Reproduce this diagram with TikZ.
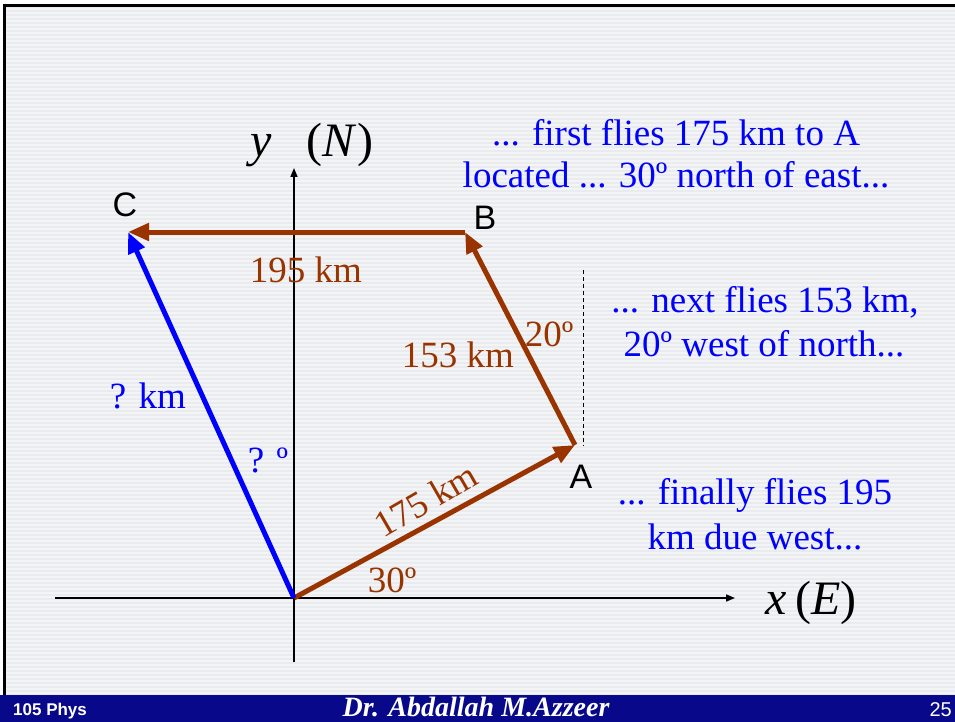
\documentclass[tikz,border=0pt]{standalone}
\usepackage{fontspec}
\setmainfont{Liberation Serif}
\newfontfamily\arial{Liberation Sans}
\usetikzlibrary{arrows.meta}
\definecolor{brownv}{HTML}{993300}
\definecolor{bluev}{HTML}{0000FF}
\definecolor{barblue}{HTML}{08088A}
\definecolor{bgslide}{HTML}{E9EBEE}
\tikzset{
  vec/.style={line width=5pt,-{Triangle[length=21pt,width=17pt]}},
  brownvec/.style={vec,draw=brownv},
  bluevec/.style={vec,draw=bluev},
  axis/.style={line width=1.6pt,-{Triangle[length=9pt,width=7pt]}},
  txt/.style={font=\fontsize{37}{37}\selectfont,inner sep=0pt,text=bluev},
  brtxt/.style={font=\fontsize{37}{37}\selectfont,inner sep=0pt,text=brownv},
  ptlabel/.style={font=\arial\fontsize{34}{34}\selectfont,inner sep=0pt},
  axlabel/.style={font=\fontsize{48}{48}\selectfont,inner sep=0pt},
}
\begin{document}
\begin{tikzpicture}[x=1pt,y=-1pt]
\useasboundingbox (0,0) rectangle (955,722);
\fill[white] (0,0) rectangle (955,722);
\fill[bgslide] (5,7) rectangle (955,695);
\foreach \k in {9,13,...,693} {\draw[white,opacity=0.45,line width=1.4pt] (5,\k) -- (955,\k);}
\draw[line width=3pt] (4,695) -- (4,6) -- (955,6);
\fill[barblue] (0,695) rectangle (955,722);
\node[font=\arial\bfseries\fontsize{17}{17}\selectfont,text=white,anchor=west,inner sep=0pt] (f1) at (13,711) {105 Phys};
\node[font=\bfseries\itshape\fontsize{28}{28}\selectfont,text=white,inner sep=0pt] (f2) at (476,707) {Dr. Abdallah M.Azzeer};
\node[font=\arial\fontsize{20}{20}\selectfont,text=white,anchor=east,inner sep=0pt] (f3) at (952,710) {25};

% points
\coordinate (O) at (294,598);
\coordinate (A) at (575,445);
\coordinate (B) at (465,232);
\coordinate (C) at (128,232);
\coordinate (xs) at (55,598);
\coordinate (xe) at (735,598);
\coordinate (ys) at (294,662);
\coordinate (ye) at (294,168);
\coordinate (d1) at (583,270);
\coordinate (d2) at (583,446);

% axes
\draw[axis] (xs) -- (xe);
\draw[axis] (ys) -- (ye);
\node[axlabel] (xl) at (811,603) {\textit{x}\,(\textit{E})};
\node[axlabel] (yl) at (312,145) {\textit{y}\;\;\,(\textit{N})};

\draw[dashed,line width=1pt,dash pattern=on 4pt off 3pt] (d1) -- (d2);

% vectors
\draw[brownvec] (O) -- (A);
\draw[brownvec] (A) -- (B);
\draw[brownvec] (B) -- (C);
\draw[bluevec] (O) -- (C);

% point labels
\node[ptlabel] (lA) at (581,477) {A};
\node[ptlabel] (lB) at (485,218) {B};
\node[ptlabel] (lC) at (125,205) {C};

% vector labels
\node[brtxt] (k195) at (306,270) {195 km};
\node[brtxt] (k153) at (458,355) {153 km};
\node[brtxt] (a20) at (549,334) {20º};
\node[brtxt,rotate=30] (k175) at (426,500) {175 km};
\node[brtxt] (a30) at (392,580) {30º};
\node[txt] (qk) at (148,396) {? km};
\node[txt] (qa) at (268,460) {? º};

% description
\node[txt] (t1) at (676,133) {... first flies 175 km to A};
\node[txt] (t2) at (676,175) {located ... 30º north of east...};
\node[txt] (t3) at (765,302) {... next flies 153 km,};
\node[txt] (t4) at (764,344) {20º west of north...};
\node[txt] (t5) at (755,495) {... finally flies 195};
\node[txt] (t6) at (755,537) {km due west...};
\end{tikzpicture}
\end{document}
